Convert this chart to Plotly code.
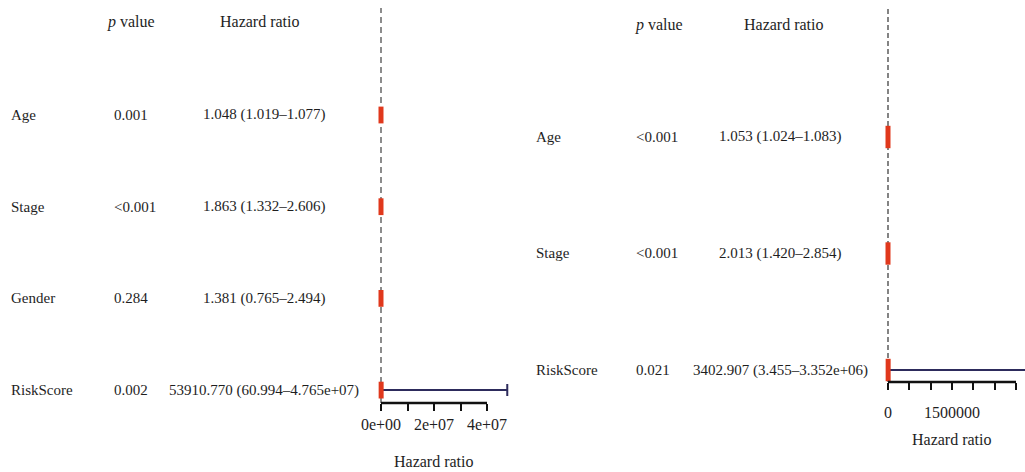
import plotly.graph_objects as go

# ---------------- data ----------------
left_vars = ["Age", "Stage", "Gender", "RiskScore"]
left_p = ["0.001", "<0.001", "0.284", "0.002"]
left_hr = [1.048, 1.863, 1.381, 53910.770]
left_lo = [1.019, 1.332, 0.765, 60.994]
left_hi = [1.077, 2.606, 2.494, 4.765e7]
left_hr_text = ["1.048 (1.019–1.077)", "1.863 (1.332–2.606)",
                "1.381 (0.765–2.494)", "53910.770 (60.994–4.765e+07)"]
left_tickvals = [0, 1e7, 2e7, 3e7, 4e7]
left_ticktext = ["0e+00", "", "2e+07", "", "4e+07"]

right_vars = ["Age", "Stage", "RiskScore"]
right_p = ["<0.001", "<0.001", "0.021"]
right_hr = [1.053, 2.013, 3402.907]
right_lo = [1.024, 1.420, 3.455]
right_hi = [1.083, 2.854, 3.352e6]
right_hr_text = ["1.053 (1.024–1.083)", "2.013 (1.420–2.854)",
                 "3402.907 (3.455–3.352e+06)"]
right_tickvals = [0, 5e5, 1e6, 1.5e6, 2e6, 2.5e6, 3e6]
right_ticktext = ["0", "", "", "1500000", "", "", ""]

# ---------------- style / layout ----------------
W, H = 1025, 472
FONT = "Liberation Serif"
TXT = "#1e1e1e"
RED = "#e0381c"
NAVY = "#2d2b5c"
BODY_SIZE = 15
HEAD_SIZE = 16
TICK_SIZE = 16


def py(p):
    return 1 - p / H


def px(p):
    return p / W


panels = [
    dict(ax="", vars=left_vars, p=left_p, hr=left_hr, lo=left_lo, hi=left_hi,
         hrt=left_hr_text, tv=left_tickvals, tt=left_ticktext,
         dom=(360, 514), zero_px=381, ref_px=487,
         axis_px=403, top_px=8, row0=115, gap=91.7,
         name_x=9, p_x=112, hr_x=264, head_y=22, head_p=131, head_hr=260,
         title_y=461, standoff=0, box_h=12, dash="6px,4px", dash_col="#707070",
         dash_w=1.6),
    dict(ax="2", vars=right_vars, p=right_p, hr=right_hr, lo=right_lo, hi=right_hi,
         hrt=right_hr_text, tv=right_tickvals, tt=right_ticktext,
         dom=(870, 1025), zero_px=888, ref_px=1016,
         axis_px=382, top_px=8, row0=137, gap=116.5,
         name_x=534, p_x=634, hr_x=780, head_y=25, head_p=659, head_hr=784,
         title_y=439, standoff=9, box_h=16, dash="5px,3px", dash_col="#333333",
         dash_w=1.2),
]

fig = go.Figure()
annotations = []
shapes = []
layout_axes = {}

for P in panels:
    n = len(P["vars"])
    yv = [n - i for i in range(n)]
    xa = "x" + P["ax"]
    ya = "y" + P["ax"]
    upp = P["tv"][-1] / (P["ref_px"] - P["zero_px"])
    x0 = (P["dom"][0] - P["zero_px"]) * upp
    x1 = (P["dom"][1] - P["zero_px"]) * upp
    yb = n - (P["axis_px"] - P["row0"]) / P["gap"]
    yt = n - (P["top_px"] - P["row0"]) / P["gap"]

    # whiskers (confidence intervals)
    fig.add_trace(go.Scatter(
        x=P["hr"], y=yv, xaxis=xa, yaxis=ya, mode="markers",
        marker=dict(size=1, color="rgba(0,0,0,0)"),
        error_x=dict(type="data", symmetric=False,
                     array=[h - m for h, m in zip(P["hi"], P["hr"])],
                     arrayminus=[m - l for m, l in zip(P["hr"], P["lo"])],
                     color=NAVY, thickness=2, width=6),
        showlegend=False, hoverinfo="skip"))
    # boxes (point estimates)
    fig.add_trace(go.Scatter(
        x=P["hr"], y=yv, xaxis=xa, yaxis=ya, mode="markers",
        marker=dict(symbol="line-ns", size=P["box_h"],
                    line=dict(width=5, color=RED), color=RED),
        cliponaxis=False, showlegend=False))

    xkey = "xaxis" + P["ax"]
    ykey = "yaxis" + P["ax"]
    layout_axes[xkey] = dict(
        domain=[px(P["dom"][0]), px(P["dom"][1])], range=[x0, x1],
        anchor=ya, showgrid=False, zeroline=False, showline=False,
        tickmode="array", tickvals=P["tv"], ticktext=P["tt"],
        ticks="outside", ticklen=7, tickwidth=2, tickcolor="#111",
        ticklabelstandoff=P["standoff"],
        tickfont=dict(family=FONT, size=TICK_SIZE, color=TXT), fixedrange=True)
    layout_axes[ykey] = dict(
        domain=[py(P["axis_px"]), py(P["top_px"])], range=[yb, yt],
        anchor=xa, visible=False, fixedrange=True)

    shapes.append(dict(type="line", xref=xa, yref=ya + " domain", layer="below",
                       x0=1, x1=1, y0=0, y1=1,
                       line=dict(color=P["dash_col"], width=P["dash_w"], dash=P["dash"])))
    shapes.append(dict(type="line", xref=xa, yref=ya + " domain",
                       x0=P["tv"][0], x1=P["tv"][-1], y0=0, y1=0,
                       line=dict(color="#111", width=2.5)))

    f = dict(family=FONT, size=BODY_SIZE, color=TXT)
    fh = dict(family=FONT, size=HEAD_SIZE, color=TXT)
    for i in range(n):
        annotations.append(dict(xref="paper", yref=ya, x=px(P["name_x"]), y=yv[i],
                                text=P["vars"][i], xanchor="left", yanchor="middle",
                                showarrow=False, font=f))
        annotations.append(dict(xref="paper", yref=ya, x=px(P["p_x"]), y=yv[i],
                                text=P["p"][i], xanchor="left", yanchor="middle",
                                showarrow=False, font=f))
        annotations.append(dict(xref="paper", yref=ya, x=px(P["hr_x"]), y=yv[i],
                                text=P["hrt"][i], xanchor="center", yanchor="middle",
                                showarrow=False, font=f))
    annotations.append(dict(xref="paper", yref="paper", x=px(P["head_p"]), y=py(P["head_y"]),
                            text="<i>p</i> value", xanchor="center", yanchor="middle",
                            showarrow=False, font=fh))
    annotations.append(dict(xref="paper", yref="paper", x=px(P["head_hr"]), y=py(P["head_y"]),
                            text="Hazard ratio", xanchor="center", yanchor="middle",
                            showarrow=False, font=fh))
    annotations.append(dict(xref=xa, yref="paper", x=(P["tv"][0] + P["tv"][-1]) / 2,
                            y=py(P["title_y"]), text="Hazard ratio", xanchor="center",
                            yanchor="middle", showarrow=False, font=fh))

fig.update_layout(
    width=W, height=H, margin=dict(l=0, r=0, t=0, b=0),
    paper_bgcolor="white", plot_bgcolor="white",
    annotations=annotations, shapes=shapes, showlegend=False,
    **layout_axes)

fig.write_html("out.html", config={"displayModeBar": False},
               post_script="document.body.style.margin='0';document.body.style.overflow='hidden';")
